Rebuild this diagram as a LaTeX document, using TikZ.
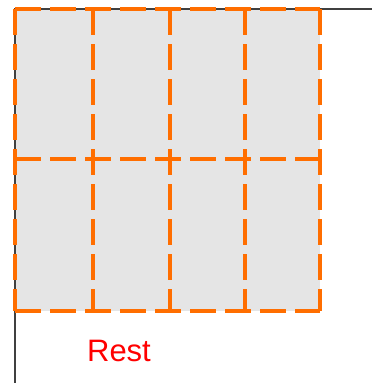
\documentclass[tikz,border=0pt]{standalone}
\usepackage{fontspec}
\setmainfont{Liberation Sans}

\begin{document}
\begin{tikzpicture}[x=1pt, y=-1pt,
        cellfill/.style={fill=gray!20},
        cell/.style={draw={rgb,255:red,255;green,110;blue,0}, line width=3.2pt, dash pattern=on 26pt off 9pt},
        axis/.style={draw=black!75, line width=1.2pt}]
        \useasboundingbox (0,0) rectangle (372,383);
        \fill[cellfill] (15,9) rectangle (320,311);
        \draw[axis] (15,383) -- (15,9) -- (372,9);
        % borders of the eight cells
        \foreach \xa in {15, 93, 170, 245, 320}
            \draw[cell] (\xa,9) -- (\xa,311);
        \foreach \ya in {9, 159, 311}
            \draw[cell] (15,\ya) -- (320,\ya);
        \node[text=red, font=\fontsize{31}{36}\selectfont] (rest) at (119,351) {Rest};
    \end{tikzpicture}
\end{document}
